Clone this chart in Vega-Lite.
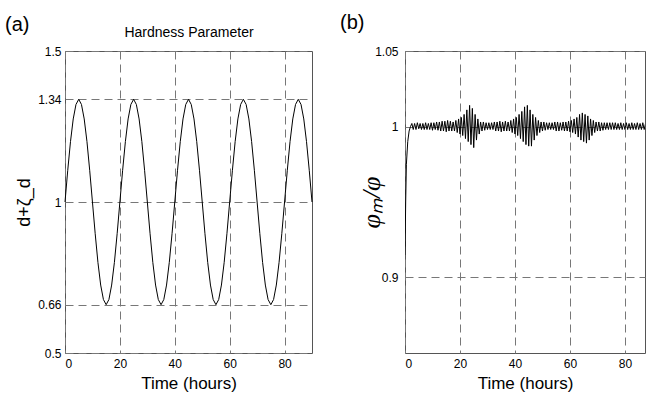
{
  "$schema": "https://vega.github.io/schema/vega-lite/v6.json",
  "bounds": "flush",
  "spacing": 93,
  "padding": {"left": 4, "top": 12, "right": 0, "bottom": 0},
  "background": "white",
  "config": {
    "font": "Liberation Sans",
    "view": {"stroke": "#555", "strokeWidth": 1},
    "title": {"fontWeight": "normal", "color": "#000", "font": "Liberation Sans"},
    "axis": {
      "labelFont": "Liberation Sans", "labelFontSize": 12, "labelColor": "#000",
      "gridColor": "#777", "gridDash": [8, 5], "gridOpacity": 1, "gridWidth": 1,
      "ticks": false, "domain": false, "titleFontWeight": "normal", "titleColor": "#000",
      "titleFont": "Liberation Sans"
    }
  },
  "datasets": {
    "hard": [
      {"t":0,"v":1},{"t":1,"v":1.105},{"t":2,"v":1.2},{"t":3,"v":1.275},{"t":4,"v":1.323},{"t":5,"v":1.34},{"t":6,"v":1.323},{"t":7,"v":1.275},{"t":8,"v":1.2},{"t":9,"v":1.105},
      {"t":10,"v":1},{"t":11,"v":0.895},{"t":12,"v":0.8},{"t":13,"v":0.725},{"t":14,"v":0.677},{"t":15,"v":0.66},{"t":16,"v":0.677},{"t":17,"v":0.725},{"t":18,"v":0.8},{"t":19,"v":0.895},
      {"t":20,"v":1},{"t":21,"v":1.105},{"t":22,"v":1.2},{"t":23,"v":1.275},{"t":24,"v":1.323},{"t":25,"v":1.34},{"t":26,"v":1.323},{"t":27,"v":1.275},{"t":28,"v":1.2},{"t":29,"v":1.105},
      {"t":30,"v":1},{"t":31,"v":0.895},{"t":32,"v":0.8},{"t":33,"v":0.725},{"t":34,"v":0.677},{"t":35,"v":0.66},{"t":36,"v":0.677},{"t":37,"v":0.725},{"t":38,"v":0.8},{"t":39,"v":0.895},
      {"t":40,"v":1},{"t":41,"v":1.105},{"t":42,"v":1.2},{"t":43,"v":1.275},{"t":44,"v":1.323},{"t":45,"v":1.34},{"t":46,"v":1.323},{"t":47,"v":1.275},{"t":48,"v":1.2},{"t":49,"v":1.105},
      {"t":50,"v":1},{"t":51,"v":0.895},{"t":52,"v":0.8},{"t":53,"v":0.725},{"t":54,"v":0.677},{"t":55,"v":0.66},{"t":56,"v":0.677},{"t":57,"v":0.725},{"t":58,"v":0.8},{"t":59,"v":0.895},
      {"t":60,"v":1},{"t":61,"v":1.105},{"t":62,"v":1.2},{"t":63,"v":1.275},{"t":64,"v":1.323},{"t":65,"v":1.34},{"t":66,"v":1.323},{"t":67,"v":1.275},{"t":68,"v":1.2},{"t":69,"v":1.105},
      {"t":70,"v":1},{"t":71,"v":0.895},{"t":72,"v":0.8},{"t":73,"v":0.725},{"t":74,"v":0.677},{"t":75,"v":0.66},{"t":76,"v":0.677},{"t":77,"v":0.725},{"t":78,"v":0.8},{"t":79,"v":0.895},
      {"t":80,"v":1},{"t":81,"v":1.105},{"t":82,"v":1.2},{"t":83,"v":1.275},{"t":84,"v":1.323},{"t":85,"v":1.34},{"t":86,"v":1.323},{"t":87,"v":1.275},{"t":88,"v":1.2},{"t":89,"v":1.105},
      {"t":90,"v":1}
    ],
    "phi": [
      {"t":0,"v":0.915},{"t":0.25,"v":0.95},{"t":0.5,"v":0.975},{"t":1,"v":0.99},{"t":1.5,"v":0.997},{"t":2,"v":1.0},
      {"t":2.5,"v":1.002},{"t":3,"v":0.998},{"t":3.5,"v":1.002},{"t":4,"v":0.998},{"t":4.5,"v":1.0025},{"t":5,"v":0.9985},{"t":5.5,"v":1.002},{"t":6,"v":0.998},{"t":6.5,"v":1.002},{"t":7,"v":0.998},
      {"t":7.5,"v":1.0025},{"t":8,"v":0.998},{"t":8.5,"v":1.002},{"t":9,"v":0.998},{"t":9.5,"v":1.0025},{"t":10,"v":0.9975},{"t":10.5,"v":1.0025},{"t":11,"v":0.998},{"t":11.5,"v":1.003},{"t":12,"v":0.9975},
      {"t":12.5,"v":1.003},{"t":13,"v":0.997},{"t":13.5,"v":1.0035},{"t":14,"v":0.997},{"t":14.5,"v":1.0035},{"t":15,"v":0.9965},{"t":15.5,"v":1.004},{"t":16,"v":0.997},{"t":16.5,"v":1.0035},{"t":17,"v":0.997},
      {"t":17.5,"v":1.003},{"t":18,"v":0.997},{"t":18.5,"v":1.004},{"t":19,"v":0.996},{"t":19.5,"v":1.005},{"t":20,"v":0.995},{"t":20.5,"v":1.006},{"t":21,"v":0.994},{"t":21.5,"v":1.008},{"t":22,"v":0.992},
      {"t":22.5,"v":1.011},{"t":23,"v":0.99},{"t":23.5,"v":1.014},{"t":24,"v":0.988},{"t":24.5,"v":1.012},{"t":25,"v":0.986},{"t":25.5,"v":1.008},{"t":26,"v":0.991},{"t":26.5,"v":1.005},{"t":27,"v":0.995},
      {"t":27.5,"v":1.003},{"t":28,"v":0.997},{"t":28.5,"v":1.003},{"t":29,"v":0.9975},{"t":29.5,"v":1.0025},{"t":30,"v":0.998},{"t":30.5,"v":1.0025},{"t":31,"v":0.998},{"t":31.5,"v":1.0025},{"t":32,"v":0.998},
      {"t":32.5,"v":1.003},{"t":33,"v":0.997},{"t":33.5,"v":1.003},{"t":34,"v":0.997},{"t":34.5,"v":1.0035},{"t":35,"v":0.9965},{"t":35.5,"v":1.003},{"t":36,"v":0.997},{"t":36.5,"v":1.0035},{"t":37,"v":0.997},
      {"t":37.5,"v":1.003},{"t":38,"v":0.997},{"t":38.5,"v":1.004},{"t":39,"v":0.996},{"t":39.5,"v":1.005},{"t":40,"v":0.995},{"t":40.5,"v":1.006},{"t":41,"v":0.994},{"t":41.5,"v":1.008},{"t":42,"v":0.992},
      {"t":42.5,"v":1.01},{"t":43,"v":0.99},{"t":43.5,"v":1.013},{"t":44,"v":0.988},{"t":44.5,"v":1.014},{"t":45,"v":0.987},{"t":45.5,"v":1.011},{"t":46,"v":0.987},{"t":46.5,"v":1.008},{"t":47,"v":0.991},
      {"t":47.5,"v":1.006},{"t":48,"v":0.994},{"t":48.5,"v":1.004},{"t":49,"v":0.996},{"t":49.5,"v":1.003},{"t":50,"v":0.997},{"t":50.5,"v":1.003},{"t":51,"v":0.9975},{"t":51.5,"v":1.0025},{"t":52,"v":0.998},
      {"t":52.5,"v":1.0025},{"t":53,"v":0.998},{"t":53.5,"v":1.0025},{"t":54,"v":0.998},{"t":54.5,"v":1.003},{"t":55,"v":0.997},{"t":55.5,"v":1.003},{"t":56,"v":0.997},{"t":56.5,"v":1.0025},{"t":57,"v":0.9975},
      {"t":57.5,"v":1.003},{"t":58,"v":0.997},{"t":58.5,"v":1.003},{"t":59,"v":0.997},{"t":59.5,"v":1.0035},{"t":60,"v":0.9965},{"t":60.5,"v":1.004},{"t":61,"v":0.996},{"t":61.5,"v":1.005},{"t":62,"v":0.995},
      {"t":62.5,"v":1.006},{"t":63,"v":0.993},{"t":63.5,"v":1.008},{"t":64,"v":0.991},{"t":64.5,"v":1.009},{"t":65,"v":0.99},{"t":65.5,"v":1.008},{"t":66,"v":0.989},{"t":66.5,"v":1.007},{"t":67,"v":0.991},
      {"t":67.5,"v":1.005},{"t":68,"v":0.994},{"t":68.5,"v":1.004},{"t":69,"v":0.996},{"t":69.5,"v":1.003},{"t":70,"v":0.997},{"t":70.5,"v":1.003},{"t":71,"v":0.997},{"t":71.5,"v":1.0025},{"t":72,"v":0.9975},
      {"t":72.5,"v":1.0025},{"t":73,"v":0.998},{"t":73.5,"v":1.0025},{"t":74,"v":0.998},{"t":74.5,"v":1.0025},{"t":75,"v":0.998},{"t":75.5,"v":1.0025},{"t":76,"v":0.998},{"t":76.5,"v":1.0025},{"t":77,"v":0.998},
      {"t":77.5,"v":1.002},{"t":78,"v":0.998},{"t":78.5,"v":1.0025},{"t":79,"v":0.998},{"t":79.5,"v":1.002},{"t":80,"v":0.998},{"t":80.5,"v":1.0025},{"t":81,"v":0.998},{"t":81.5,"v":1.002},{"t":82,"v":0.998},
      {"t":82.5,"v":1.0025},{"t":83,"v":0.998},{"t":83.5,"v":1.002},{"t":84,"v":0.998},{"t":84.5,"v":1.0025},{"t":85,"v":0.998},{"t":85.5,"v":1.002},{"t":86,"v":0.998},{"t":86.5,"v":1.0025},{"t":87,"v":0.998},
      {"t":87.5,"v":1.002}
    ]
  },
  "hconcat": [
    {
      "width": 247,
      "height": 302,
      "title": {"text": "(a)", "anchor": "start", "frame": "group", "dx": -60, "fontSize": 20, "offset": 0, "dy": 10},
      "layer": [
        {
          "data": {"name": "hard"},
          "mark": {"type": "line", "color": "#000", "strokeWidth": 1},
          "encoding": {
            "x": {"field": "t", "type": "quantitative",
                  "scale": {"domain": [0, 90], "nice": false, "zero": false},
                  "axis": {"values": [0, 20, 40, 60, 80], "title": "Time (hours)", "titleFontSize": 17, "labelPadding": 5, "titlePadding": 6}},
            "y": {"field": "v", "type": "quantitative",
                  "scale": {"domain": [0.5, 1.5], "nice": false, "zero": false},
                  "axis": {"values": [0.5, 0.66, 1, 1.34, 1.5], "format": ".3~g", "title": "d+ζ_d", "titleFontSize": 18, "labelPadding": 4, "titlePadding": 4}}
          }
        },
        {
          "data": {"name": "hard"},
          "mark": {"type": "rule", "opacity": 0},
          "encoding": {
            "x": {"field": "t", "type": "quantitative",
                  "axis": {"orient": "top", "title": "Hardness Parameter", "labels": false, "grid": false, "titleFontSize": 14, "titlePadding": 12}}
          }
        }
      ],
      "resolve": {"axis": {"x": "independent"}}
    },
    {
      "width": 240,
      "height": 302,
      "title": {"text": "(b)", "anchor": "start", "frame": "group", "dx": -65, "fontSize": 20, "offset": 0, "dy": -12},
      "data": {"name": "phi"},
      "mark": {"type": "line", "color": "#000", "strokeWidth": 1, "clip": true},
      "encoding": {
        "x": {"field": "t", "type": "quantitative",
              "scale": {"domain": [0, 87.3], "nice": false, "zero": false},
              "axis": {"values": [0, 20, 40, 60, 80], "title": "Time (hours)", "titleFontSize": 17, "labelPadding": 5, "titlePadding": 6}},
        "y": {"field": "v", "type": "quantitative",
              "scale": {"domain": [0.85, 1.05], "nice": false, "zero": false},
              "axis": {"values": [0.9, 1, 1.05], "format": ".3~g", "title": "φₘ/φ", "titleFont": "Liberation Serif", "titleFontStyle": "italic", "titleFontSize": 26, "labelPadding": 7, "titlePadding": -10}}
      }
    }
  ]
}
